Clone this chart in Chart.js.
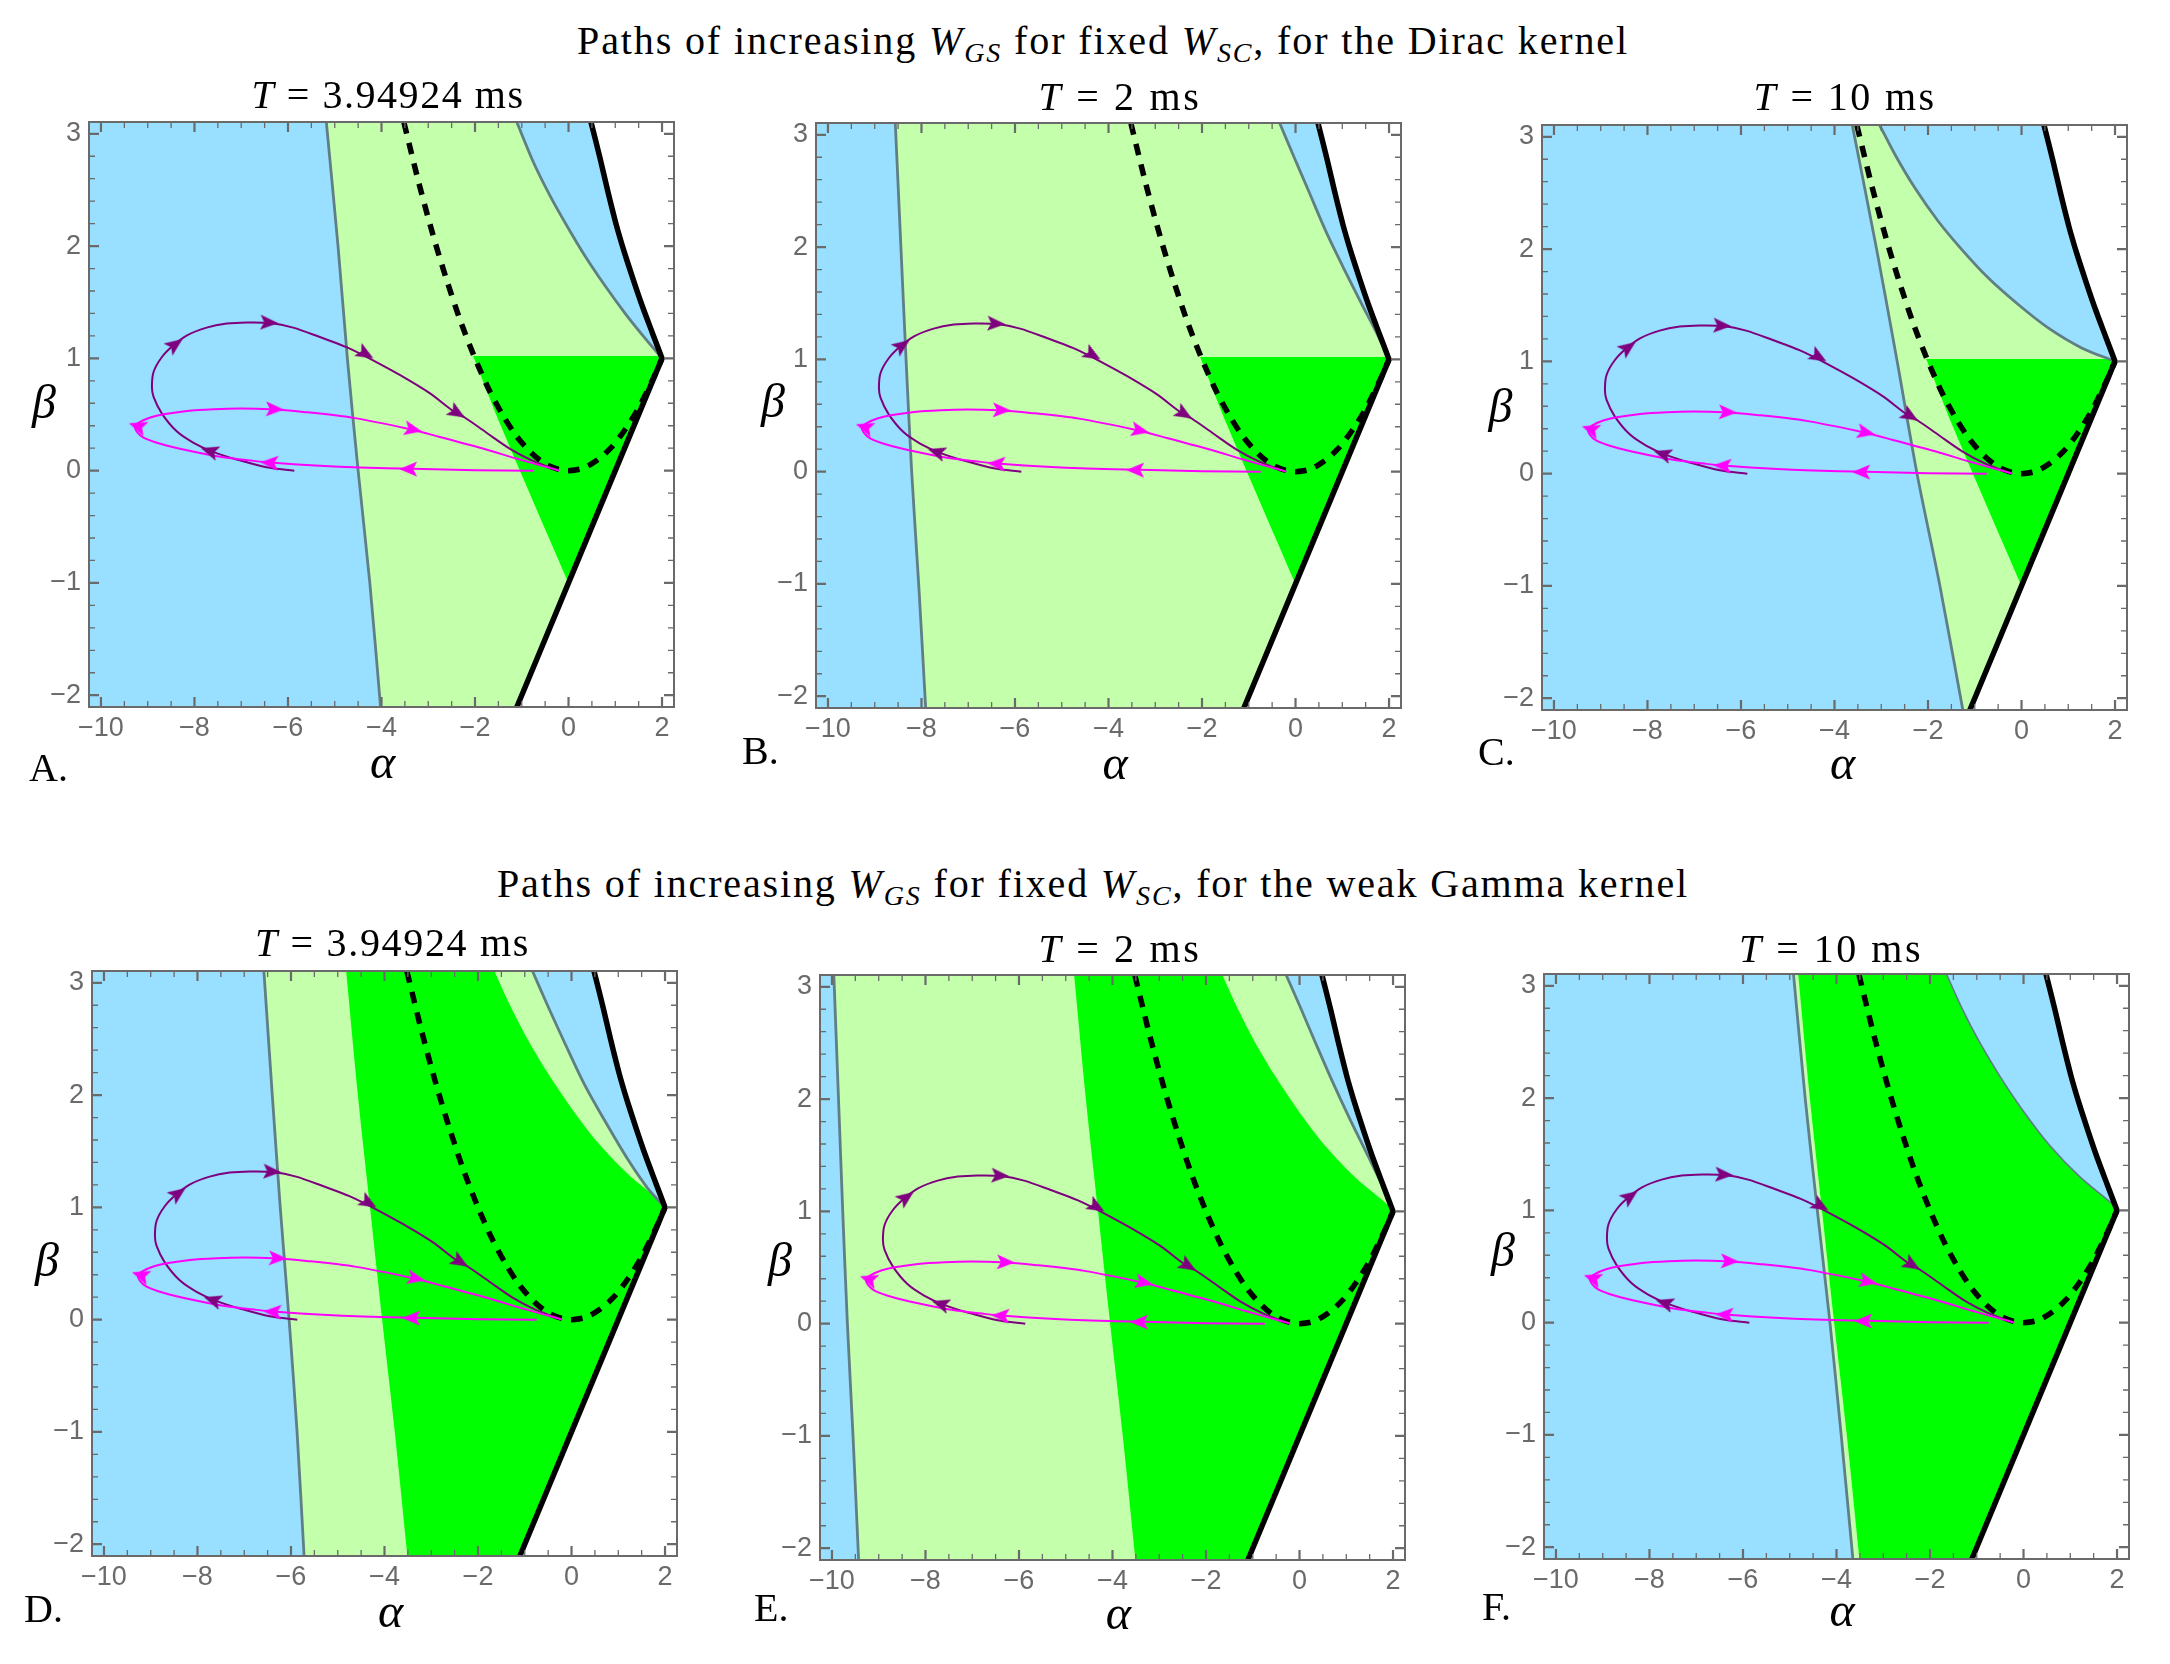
<!DOCTYPE html>
<html>
<head>
<meta charset="utf-8">
<title>Paths of increasing W_GS</title>
<script src="https://cdn.jsdelivr.net/npm/chart.js@4"></script>
<style>
  html, body { margin: 0; background: #fff; }
  #page { position: relative; width: 2170px; height: 1664px; overflow: hidden; }
  canvas { position: absolute; }
  .txt { position: absolute; transform: translate(-50%, -50%); white-space: nowrap; color: #000;
         font-family: "Liberation Serif", serif; line-height: 1; }
  .heading, .ptitle { font-size: 40px; }
  .letter { font-size: 40px; transform: translate(0, -50%); }
  .greek { font-size: 48px; font-style: italic; transform: translate(-50%, -60%); }
  sub { font-size: 0.7em; vertical-align: -0.28em; line-height: 0; }
</style>
</head>
<body>
<div id="page"></div>
<script>
// Axes
const alphaMin = -10.256, alphaMax = 2.256, betaMin = -2.105, betaMax = 3.105;
const alphaMajor = [-10, -8, -6, -4, -2, 0, 2];
const alphaMinor = [-9.5, -9, -8.5, -7.5, -7, -6.5, -5.5, -5, -4.5, -3.5, -3, -2.5, -1.5, -1, -0.5, 0.5, 1, 1.5];
const betaMajor = [-2, -1, 0, 1, 2, 3];
const betaMinor = [-1.8, -1.6, -1.4, -1.2, -0.8, -0.6, -0.4, -0.2, 0.2, 0.4, 0.6, 0.8, 1.2, 1.4, 1.6, 1.8, 2.2, 2.4, 2.6, 2.8];

// Curves shared by all panels
const purpleX = [-5.865, -6.455, -7.1, -7.59, -8.02, -8.38, -8.7, -8.875, -8.91, -8.875, -8.7, -8.45, -8.16, -7.74, -7.31, -6.88, -6.38, -5.89, -5.32, -4.75, -4.18, -3.6, -2.97, -2.47, -2.22, -1.76, -1.26, -0.76, -0.2];
const purpleY = [0, 0.03, 0.1, 0.165, 0.248, 0.35, 0.51, 0.657, 0.746, 0.879, 1.01, 1.116, 1.205, 1.274, 1.31, 1.32, 1.315, 1.274, 1.19, 1.1, 0.983, 0.85, 0.69, 0.532, 0.473, 0.34, 0.197, 0.087, 0];
const magentaX = [-0.745, -2, -3.32, -4.46, -5.32, -6.24, -6.74, -7.45, -8.16, -8.73, -9.09, -9.23, -9.27, -9.16, -8.945, -8.66, -8.16, -7.59, -7.02, -6.38, -5.67, -4.6, -3.46, -2.75, -1.83, -1.115, -0.2];
const magentaY = [0, 0.004, 0.016, 0.028, 0.043, 0.067, 0.087, 0.123, 0.182, 0.24, 0.295, 0.345, 0.396, 0.434, 0.473, 0.502, 0.532, 0.547, 0.553, 0.547, 0.523, 0.47, 0.375, 0.3, 0.197, 0.108, 0];
const purpleArrowX = [-8.41, -6.4, -4.34, -2.38, -7.68];
const purpleArrowY = [1.125, 1.318, 1.04, 0.514, 0.176];
const purpleArrowAngle = [-36, 3, 30, 31, 198];
const magentaArrowX = [-9.22, -6.28, -3.32, -6.4, -3.43];
const magentaArrowY = [0.396, 0.547, 0.366, 0.07, 0.013];
const magentaArrowAngle = [199, 2, 12, 183, 180];
const dashedX = [-3.52, -3.2, -2.9, -2.6, -2.3, -2, -1.7, -1.4, -1.1, -0.8, -0.5, -0.2, 0, 0.3, 0.6, 0.9, 1.2, 1.5, 1.8, 2];
const dashedY = [3.1, 2.56, 2.1, 1.69, 1.32, 1, 0.72, 0.49, 0.3, 0.16, 0.06, 0.01, 0, 0.02, 0.09, 0.2, 0.36, 0.56, 0.81, 1];
const blackUpperX = [0.48, 0.67, 0.836, 1.014, 1.19, 1.386, 1.586, 1.8, 2];
const blackUpperY = [3.105, 2.79, 2.495, 2.2, 1.95, 1.7, 1.457, 1.22, 1];
const blackLowerX = [2, 0, -1.105];
const blackLowerY = [1, -1, -2.105];

// Left grey boundary per panel, read at these beta levels
const leftBeta = [3.105, 2, 1, 0, -1, -2.105];
const leftA = [-5.18, -4.93, -4.73, -4.5, -4.25, -4.02];
const leftB = [-8.56, -8.44, -8.33, -8.21, -8.06, -7.91];
const leftC = [-3.62, -3.1, -2.66, -2.235, -1.745, -1.255];
const leftD = [-6.58, -6.4, -6.23, -6.04, -5.87, -5.72];
const leftE = [-9.96, -9.86, -9.77, -9.67, -9.55, -9.43];
const leftF = [-4.92, -4.67, -4.41, -4.14, -3.9, -3.65];

// Upper grey boundary per panel, running down to the cusp at (2, 1)
const upperAX = [-1.107, -0.736, -0.38, -0.02, 0.37, 0.8, 1.23, 1.586, 2];
const upperAY = [3.105, 2.733, 2.436, 2.17, 1.9, 1.635, 1.39, 1.205, 1];
const upperBX = [-0.34, -0.03, 0.29, 0.65, 1.02, 1.43, 1.73, 2];
const upperBY = [3.105, 2.8, 2.49, 2.14, 1.82, 1.48, 1.24, 1];
const upperCX = [-3.036, -2.71, -2.286, -1.786, -1.286, -0.714, -0.07, 0.57, 1.286, 2];
const upperCY = [3.105, 2.845, 2.548, 2.25, 2, 1.744, 1.506, 1.298, 1.12, 1];
const upperDX = [-0.836, -0.514, -0.157, 0.27, 0.7, 1.2, 1.63, 2];
const upperDY = [3.105, 2.8, 2.475, 2.1, 1.78, 1.43, 1.17, 1];
const upperEX = [-0.286, 0.02, 0.343, 0.7, 1.057, 1.486, 1.77, 2];
const upperEY = [3.105, 2.815, 2.5, 2.16, 1.84, 1.476, 1.23, 1];

// Bright green regions
const triangleX = [-2.04, 2, 0, -1.04, -1.55];
const triangleY = [1.02, 1.02, -1, 0, 0.5];
const gammaLeftX = [-4.82, -4.57, -4.31, -4.05, -3.78, -3.51];
const gammaUpperX = [-1.65, -1.3, -0.943, -0.514, -0.014, 0.557, 1.2, 1.914, 2];
const gammaUpperY = [3.105, 2.786, 2.5, 2.2, 1.89, 1.58, 1.3, 1.05, 1];

// Colours
const BLUE = '#99dfff', PALE = '#c4ffab', GREEN = '#00ff00', GREY = '#5f7f85', AXIS = '#6a6a6a';
const PURPLE = '#7f007f', MAGENTA = '#ff00ff';

// Panels: the page layout goes here, the curves above
const panels = [
  { left: leftA, upperX: upperAX, upperY: upperAY, gamma: false, x: 88.6, y: 121.4, title: '3.94924', tx: 388, ty: 95, tw: 273, letter: 'A.', lx: 29, ly: 768, ax: 382.5, ay: 767, bx: 44, by: 407 },
  { left: leftB, upperX: upperBX, upperY: upperBY, gamma: false, x: 815.5, y: 122.4, title: '2', tx: 1120, ty: 97, tw: 163, letter: 'B.', lx: 742, ly: 751, ax: 1115, ay: 768, bx: 773, by: 406 },
  { left: leftC, upperX: upperCX, upperY: upperCY, gamma: false, x: 1542.3, y: 123.5, title: '10', tx: 1845, ty: 97, tw: 183, letter: 'C.', lx: 1478, ly: 752, ax: 1842.5, ay: 768, bx: 1500.5, by: 411 },
  { left: leftD, upperX: upperDX, upperY: upperDY, gamma: true, x: 92.3, y: 970.4, title: '3.94924', tx: 392.5, ty: 943, tw: 275, letter: 'D.', lx: 24, ly: 1609, ax: 390.6, ay: 1615.5, bx: 47, by: 1265 },
  { left: leftE, upperX: upperEX, upperY: upperEY, gamma: true, x: 820.1, y: 973.5, title: '2', tx: 1120, ty: 948.6, tw: 163, letter: 'E.', lx: 754, ly: 1608, ax: 1118.4, ay: 1618, bx: 780, by: 1265 },
  { left: leftF, upperX: gammaUpperX, upperY: gammaUpperY, gamma: true, thinUpper: true, x: 1544.1, y: 972.5, title: '10', tx: 1831, ty: 948.6, tw: 184, letter: 'F.', lx: 1482, ly: 1607, ax: 1842, ay: 1615, bx: 1503, by: 1255 },
];

const PLOT = 586, PAD_L = 72, PAD_T = 8, PAD_R = 8, PAD_B = 56;
const page = document.getElementById('page');

function pts(xs, ys) {
  return xs.map((x, i) => ({ x, y: ys[i] }));
}

function addText(cls, html, x, y, width) {
  const el = document.createElement('div');
  el.className = 'txt ' + cls;
  el.innerHTML = html;
  el.style.left = x + 'px';
  el.style.top = y + 'px';
  page.appendChild(el);
  // stretch to the width of the wider Computer Modern setting
  if (width) {
    const chars = el.textContent.length;
    el.style.letterSpacing = ((width - el.getBoundingClientRect().width) / chars) + 'px';
  }
}

function arrowSprite(color) {
  const c = document.createElement('canvas');
  c.width = c.height = 24;
  const g = c.getContext('2d');
  g.fillStyle = color;
  g.beginPath();
  g.moveTo(21, 12);
  g.lineTo(3, 4.5);
  g.lineTo(7, 12);
  g.lineTo(3, 19.5);
  g.closePath();
  g.fill();
  return c;
}
const purpleArrow = arrowSprite(PURPLE);
const magentaArrow = arrowSprite(MAGENTA);

// Mathematica style frame: ticks point inward on all four sides
const frameTicks = {
  id: 'frameTicks',
  afterDatasetsDraw(chart) {
    const { ctx, chartArea: a, scales: { x, y } } = chart;
    const tick = (list, len, width) => {
      ctx.lineWidth = width;
      ctx.beginPath();
      list.forEach(v => {
        const px = x.getPixelForValue(v);
        ctx.moveTo(px, a.bottom); ctx.lineTo(px, a.bottom - len);
        ctx.moveTo(px, a.top); ctx.lineTo(px, a.top + len);
      });
      ctx.stroke();
    };
    const tickY = (list, len, width) => {
      ctx.lineWidth = width;
      ctx.beginPath();
      list.forEach(v => {
        const py = y.getPixelForValue(v);
        ctx.moveTo(a.left, py); ctx.lineTo(a.left + len, py);
        ctx.moveTo(a.right, py); ctx.lineTo(a.right - len, py);
      });
      ctx.stroke();
    };
    ctx.save();
    ctx.strokeStyle = AXIS;
    tick(alphaMajor, 10, 2.2);
    tick(alphaMinor, 6, 1.3);
    tickY(betaMajor, 10, 2.2);
    tickY(betaMinor, 6, 1.3);
    ctx.lineWidth = 2;
    ctx.strokeRect(a.left, a.top, a.right - a.left, a.bottom - a.top);
    ctx.restore();
  }
};

// Smooth runs joined at hard corners: a repeated point keeps the corner sharp under tension
function loop(...runs) {
  return runs.flatMap(r => [r[0], ...r, r[r.length - 1]]);
}

function region(color, data) {
  return { data, backgroundColor: color, borderWidth: 0, fill: 'shape', pointRadius: 0, tension: 0.3 };
}

function curve(color, width, data, extra) {
  return Object.assign({ data, borderColor: color, borderWidth: width, fill: false, pointRadius: 0, tension: 0.3 }, extra);
}

function arrows(sprite, xs, ys, angles) {
  return { data: pts(xs, ys), showLine: false, pointStyle: sprite, pointRotation: angles, pointRadius: 8 };
}

function buildDatasets(p) {
  const upper = pts(p.upperX, p.upperY);
  const leftEdge = pts(p.left, leftBeta);
  const blackUpper = pts(blackUpperX, blackUpperY);
  const blackLower = pts(blackLowerX, blackLowerY);

  const layers = [
    region(BLUE, loop([{ x: alphaMin, y: betaMax }], blackUpper, blackLower, [{ x: alphaMin, y: betaMin }])),
    region(PALE, loop(leftEdge, blackLower.slice().reverse(), upper.slice().reverse())),
  ];
  if (p.gamma) {
    layers.push(region(GREEN, loop(pts(gammaLeftX, leftBeta), blackLower.slice().reverse(), pts(gammaUpperX, gammaUpperY).reverse())));
  } else {
    layers.push(region(GREEN, loop(pts(triangleX.slice(0, 2), triangleY.slice(0, 2)), pts(triangleX.slice(1, 3), triangleY.slice(1, 3)), pts(triangleX.slice(2), triangleY.slice(2)))));
  }
  layers.push(
    curve(GREY, 2.8, leftEdge),
    curve(GREY, p.thinUpper ? 1.6 : 2.8, upper),
    curve('#000', 5.5, loop(blackUpper, blackLower), { borderJoinStyle: 'miter' }),
    curve('#000', 5.5, pts(dashedX, dashedY), { borderDash: [11.5, 9.5] }),
    curve(PURPLE, 2, pts(purpleX, purpleY)),
    curve(MAGENTA, 2, pts(magentaX, magentaY)),
    arrows(purpleArrow, purpleArrowX, purpleArrowY, purpleArrowAngle),
    arrows(magentaArrow, magentaArrowX, magentaArrowY, magentaArrowAngle),
  );
  // a lower order is drawn later in Chart.js
  layers.forEach((d, i) => { d.order = layers.length - i; });
  return layers;
}

function tickLabel(v) {
  return v < 0 ? '\u2212' + Math.abs(v) : String(v);
}

function drawPanel(p) {
  const canvas = document.createElement('canvas');
  canvas.width = PLOT + PAD_L + PAD_R;
  canvas.height = PLOT + PAD_T + PAD_B;
  canvas.style.left = (p.x - PAD_L) + 'px';
  canvas.style.top = (p.y - PAD_T) + 'px';
  page.appendChild(canvas);

  const tickFont = { family: '"Liberation Sans", sans-serif', size: 27 };
  new Chart(canvas, {
    type: 'line',
    data: { datasets: buildDatasets(p) },
    plugins: [frameTicks],
    options: {
      responsive: false,
      animation: false,
      devicePixelRatio: 1,
      layout: { padding: { top: PAD_T, right: PAD_R } },
      plugins: { legend: { display: false }, tooltip: { enabled: false } },
      scales: {
        x: {
          type: 'linear', min: alphaMin, max: alphaMax,
          grid: { display: false }, border: { display: false },
          afterBuildTicks: s => { s.ticks = alphaMajor.map(value => ({ value })); },
          afterFit: s => { s.height = PAD_B; s.paddingLeft = 0; s.paddingRight = 0; },
          ticks: { color: AXIS, font: tickFont, padding: -3, maxRotation: 0, autoSkip: false, callback: tickLabel },
        },
        y: {
          type: 'linear', min: betaMin, max: betaMax,
          grid: { display: false }, border: { display: false },
          afterBuildTicks: s => { s.ticks = betaMajor.map(value => ({ value })); },
          afterFit: s => { s.width = PAD_L; s.paddingTop = 0; s.paddingBottom = 0; },
          ticks: { color: AXIS, font: tickFont, padding: 0, autoSkip: false, callback: tickLabel },
        },
      },
    },
  });

  addText('ptitle', '<i>T</i> = ' + p.title + ' ms', p.tx, p.ty, p.tw);
  addText('letter', p.letter, p.lx, p.ly);
  addText('greek', '\u03b1', p.ax, p.ay);
  addText('greek', '\u03b2', p.bx, p.by);
}

panels.forEach(drawPanel);

const wTerms = '<i>W</i><sub><i>GS</i></sub> for fixed <i>W</i><sub><i>SC</i></sub>';
addText('heading', 'Paths of increasing ' + wTerms + ', for the Dirac kernel', 1103, 41, 1052);
addText('heading', 'Paths of increasing ' + wTerms + ', for the weak Gamma kernel', 1093, 884, 1192);
</script>
</body>
</html>
